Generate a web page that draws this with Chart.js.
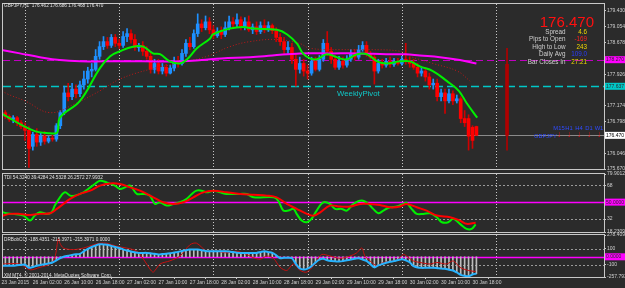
<!DOCTYPE html>
<html><head><meta charset="utf-8">
<script src="https://cdn.jsdelivr.net/npm/chart.js@4"></script>
<style>
html,body{margin:0;padding:0;background:#2b2b2b;width:625px;height:288px;overflow:hidden}
canvas{position:absolute;left:0;top:0}
</style></head><body>
<canvas id="cMain" width="625" height="288"></canvas>
<canvas id="cTdi" width="625" height="288"></canvas>
<canvas id="cCci" width="625" height="288"></canvas>
<script>
// ---------- DATA ----------
// bar position in hours since 26 Jan 00:00 (weekend skipped); H1 bars
const barHours = [-6,-5,-4,-3,-2,-1,0,1,2,3,4,5,6,7,8,9,10,11,12,13,14,15,16,17,18,19,20,21,22,23,24,25,26,27,28,29,30,31,32,33,34,35,36,37,38,39,40,41,42,43,44,45,46,47,48,49,50,51,52,53,54,55,56,57,58,59,60,61,62,63,64,65,66,67,68,69,70,71,72,73,74,75,76,77,78,79,80,81,82,83,84,85,86,87,88,89,90,91,92,93,94,95,96,97,98,99,100,101,102,103,104,105,106,107,108,109,110,111,112,113,114,115];
const openP = [176.94,177.01,176.92,176.85,176.89,176.77,176.68,176.59,176.21,176.49,176.31,176.45,176.33,176.40,176.38,176.70,177.01,177.48,177.39,177.57,177.46,177.67,177.81,178.00,178.04,178.35,178.58,178.70,178.61,178.80,178.66,178.61,178.82,178.89,178.75,178.56,178.61,178.47,178.35,178.04,178.18,178.00,178.09,177.95,178.07,178.23,178.18,178.42,178.66,178.58,178.89,179.12,179.03,179.17,178.98,178.84,178.94,178.87,179.03,179.17,179.12,179.22,179.05,179.17,178.98,179.05,178.94,179.08,178.98,179.08,178.96,178.80,178.70,178.51,178.56,178.28,178.04,178.18,178.00,177.95,178.23,178.04,178.28,178.66,178.47,178.28,178.09,178.23,178.14,178.28,178.42,178.33,178.51,178.61,178.42,178.33,178.00,178.18,178.14,178.23,178.16,178.23,178.18,178.28,178.23,178.18,178.09,177.95,178.00,177.86,177.67,177.71,177.39,177.48,177.29,177.46,177.29,177.34,176.87,176.87,176.66,176.68];
const highP = [177.10,177.06,176.96,176.94,176.92,176.82,176.77,176.68,176.54,176.63,176.52,176.56,176.45,176.47,176.75,177.06,177.64,177.71,177.71,177.67,177.76,178.00,178.09,178.18,178.51,178.70,178.82,178.80,178.87,178.87,178.75,178.94,179.01,178.98,178.87,178.66,178.70,178.58,178.47,178.28,178.28,178.18,178.16,178.14,178.33,178.35,178.51,178.75,178.80,178.98,179.36,179.22,179.31,179.27,179.08,179.03,179.05,179.17,179.31,179.27,179.36,179.29,179.27,179.31,179.12,179.17,179.17,179.22,179.17,179.12,179.03,178.89,178.80,178.70,178.66,178.42,178.33,178.28,178.14,178.33,178.33,178.37,178.75,178.94,178.56,178.37,178.35,178.33,178.37,178.51,178.51,178.61,178.70,178.70,178.47,178.37,178.28,178.28,178.30,178.33,178.30,178.30,178.35,178.66,178.33,178.28,178.18,178.09,178.07,177.95,177.81,177.81,177.57,177.57,177.57,177.53,177.43,177.39,177.06,176.96,176.70,176.69];
const lowP = [176.89,176.87,176.80,176.77,176.70,176.63,176.35,175.71,176.12,176.21,176.23,176.26,176.29,176.33,176.33,176.63,176.96,177.29,177.32,177.36,177.39,177.57,177.71,177.86,178.00,178.28,178.51,178.54,178.56,178.58,178.54,178.56,178.70,178.66,178.49,178.47,178.37,178.28,177.95,177.95,177.93,177.93,177.88,177.93,178.00,178.09,178.14,178.35,178.51,178.54,178.82,178.94,178.98,178.89,178.77,178.80,178.77,178.82,178.98,179.03,179.05,178.98,178.98,178.94,178.89,178.87,178.89,178.91,178.94,178.89,178.70,178.61,178.42,178.42,178.18,177.64,177.95,177.88,177.81,177.90,178.00,178.00,178.23,178.37,178.18,178.04,178.04,178.07,178.09,178.23,178.26,178.28,178.47,178.35,178.28,177.69,177.95,178.07,178.09,178.09,178.11,178.14,178.14,178.16,178.09,178.04,177.86,177.88,177.76,177.57,177.57,177.29,177.29,176.99,177.24,177.20,177.24,176.77,176.68,176.12,176.16,176.47];
const closeP = [177.01,176.92,176.85,176.89,176.77,176.68,176.59,176.16,176.49,176.31,176.45,176.33,176.40,176.38,176.70,177.01,177.48,177.39,177.57,177.46,177.67,177.81,178.00,178.04,178.35,178.58,178.70,178.61,178.80,178.66,178.61,178.82,178.89,178.75,178.56,178.61,178.47,178.35,178.04,178.18,178.00,178.09,177.95,178.07,178.23,178.18,178.42,178.66,178.58,178.89,179.12,179.03,179.17,178.98,178.84,178.94,178.87,179.03,179.17,179.12,179.22,179.05,179.17,178.98,179.05,178.94,179.08,178.98,179.08,178.96,178.80,178.70,178.51,178.56,178.28,178.04,178.18,178.00,177.95,178.23,178.04,178.28,178.66,178.47,178.28,178.09,178.23,178.14,178.28,178.42,178.33,178.51,178.61,178.42,178.33,178.00,178.18,178.14,178.23,178.16,178.23,178.18,178.28,178.23,178.18,178.09,177.95,178.00,177.86,177.67,177.71,177.39,177.48,177.29,177.46,177.29,177.34,176.87,176.77,176.45,176.35,176.47];

// moving averages on price chart (vertices)
const maFastH = [-6.4,2,6.4,8.2,8.9,14,19.1,21.7,24.2,27.5,30.1,32.6,34.4,36.9,39.5,41.3,43.8,47.1,47.9,52.2,55.5,58.1,64.2,66.8,69.3,70.8,72.6,74.4,76.9,80.3,82,84.6,87.1,89.7,92.2,95.5,98.1,100.6,103.9,107.5,110.5,112.5,115.2];
const maFast  = [177.01,176.59,176.52,176.54,176.89,177.29,178.07,178.35,178.47,178.58,178.58,178.42,178.40,178.23,178.18,178.28,178.54,178.77,178.87,179.01,179.05,179.01,178.98,178.87,178.65,178.42,178.30,178.28,178.40,178.30,178.28,178.40,178.40,178.23,178.18,178.23,178.23,178.11,178.00,177.76,177.53,177.24,176.89];
const maSlowH = [-6.4,-4.6,0,6.4,12.7,19.1,24.2,31.8,38.7,46.4,52.2,57.3,64.2,70.1,72.6,80.3,87.9,95.5,98.1,103.9,110.1,113.4];
const maSlow  = [177.57,177.46,177.29,177.01,177.22,177.53,177.81,178.04,178.18,178.35,178.58,178.70,178.75,178.65,178.54,178.51,178.51,178.47,178.35,178.18,178.00,177.76];
const maLongH = [-6.4,-1.3,3.8,8.9,14,20,30,40,45,50,57.3,63,70.1,78,85,92,97,100.6,105.7,110.8,115];
const maLong  = [178.51,178.42,178.33,178.26,178.23,178.23,178.23,178.23,178.26,178.30,178.33,178.37,178.42,178.42,178.42,178.40,178.40,178.37,178.33,178.26,178.18];

const weeklyPivot = 177.637;
const magentaLevel = 178.270;
const lastPrice = 176.470;
// daily candle drawn by the info indicator
const dailyHour = [122.8];
const dailyOpen = [178.16], dailyHigh = [178.54], dailyLow = [176.12], dailyClose = [176.47];

// TDI
const tdiFastH = [-6.4,-4.7,-3,-0.4,1.3,2.5,3.8,5.5,6.8,7.6,8.9,10.2,11.5,12.7,14.9,16.1,17.8,19.1,20.8,22.9,24.2,25.5,26.8,28.5,30.1,31.8,33.1,34.4,36.1,37.8,39.5,41.2,42.5,43.7,45,46.3,48,49.7,51.4,54.8,56.5,58.2,63.3,64.5,65.8,67.1,68.4,69.2,70.5,71.8,73,74.3,76,77.7,79,80.7,82,83.7,85.8,87.5,88.7,90,91.3,93,94.7,96.4,97.2,98.5,99.8,101.5,103.2,104.9,106.2,107.8,109.1,110.8,112.5,113.8,114.8];
const tdiFast  = [40.3,38.1,37.5,35.7,30.4,35.7,39.2,37.5,39.2,46.3,55.1,60.4,56.9,56.9,60.4,64,69.3,72.8,71,67.5,64,65.7,67.5,58.7,58.7,56.9,48.1,49.8,46.3,48.1,49.8,53.4,58.7,62.2,62.2,60.4,62.2,60.4,58.7,58.7,58.7,55.1,55.1,51.6,41,41,42.8,37.5,30.4,28.6,32.2,41,49.8,48.1,42.8,42.8,41,48.1,51.6,48.1,42.8,38.1,41,44.5,45.3,48.1,49.2,42.8,37.5,37.5,38.1,33.9,28.6,28.6,32.2,26.9,21.6,21.6,26.3];
const tdiSlowH = [-6.4,-3.8,-1.3,1.3,3.8,6.4,8.1,9.8,11.5,14,16.6,19.1,21.7,24.2,26.8,29.3,32.7,35.2,37.8,40.3,42.9,45.4,48,51.4,54.8,58.2,61.6,64.1,66.7,69.2,71.8,73.5,75.2,77.7,80.3,82.8,85.4,87.9,90.4,93,95.5,97.2,99.8,102.3,104.9,108.3,110.8,112.5,114.8];
const tdiSlow  = [34.6,37.5,37.5,36.4,37.5,38.1,42.8,48.1,53.4,58.7,62.2,67.5,69.9,69.3,65.7,62.2,55.1,49.8,48.1,49.8,55.1,60.4,62.2,60.4,58.7,57.8,56.9,55.1,48.1,42.8,37.5,35.5,39.2,46.3,45.3,45.3,48.1,48.1,47,44.5,45.3,48.1,44.5,41,35.7,33.9,30.4,26.9,28.0];
const tdiTicks = [79.9012,68,32,18.2309];

// DRBobCCI
const cciMain = [-113,-113,-113,-113,-108,-104,-101,-140,-130,-113,-104,-95,-85,-72,-45,-15,5,14,24,32,38,70,100,125,145,160,158,155,140,125,112,95,80,68,58,50,50,50,45,38,31,35,38,45,55,63,75,85,92,92,92,85,75,71,71,71,71,71,68,60,52,50,50,50,50,50,60,71,60,50,20,-18,-12,-12,-18,-90,-150,-162,-150,-120,-72,-35,-25,-45,-55,-58,-60,-55,-45,-35,-25,-18,-35,-52,-95,-135,-110,-92,-75,-62,-55,-42,-31,-45,-70,-120,-136,-141,-141,-141,-141,-145,-150,-153,-165,-174,-200,-230,-242,-248,-225,-215];
const cciTurboH = [-6.4,-1.3,1.3,3.8,6.4,7.6,8.5,8.9,9.8,12.3,14.9,17.4,19.1,20.8,23.4,25.9,28.5,30.2,31.8,32.7,34.4,36.9,39.5,42,43.7,46.3,48.8,51.4,53.9,56.5,58.2,59.9,61.6,63.3,65,66.7,68.4,70.1,71.8,73.5,74.3,75.6,77.7,80.3,82.8,84.5,85.8,86.6,87.9,89.6,91.3,93,94.7,96.4,97.2,98.9,100.6,103.2,104.9,107.4,109.1,110.8,112.9,114.8];
const cciTurbo  = [-92,-92,-166,-134,-92,-11,234,174,112,92,112,153,174,174,133,112,71,-31,-154,-195,-92,-52,10,153,174,71,71,50,71,30,-11,-31,10,-19,-134,-174,-92,-174,-195,-113,-52,30,10,-19,10,50,112,10,-52,-113,-72,-60,-43,30,10,-52,-72,-92,-72,-92,-52,-134,-174,-188];
const cciTicks = [278.4094,100,-100,-257.7930];

// time axis
const timeTickHours = [-6,2,10,18,26,34,42,50,58,66,74,82,90,98,106,114];
const timeTickLabels = ['23 Jan 2015','26 Jan 02:00','26 Jan 10:00','26 Jan 18:00','27 Jan 02:00','27 Jan 10:00','27 Jan 18:00','28 Jan 02:00','28 Jan 10:00','28 Jan 18:00','29 Jan 02:00','29 Jan 10:00','29 Jan 18:00','30 Jan 02:00','30 Jan 10:00','30 Jan 18:00'];
const daySeparators = [0,24,48,72,96,120];
const priceTicks = [179.430,179.054,178.678,177.926,177.174,176.798,176.046,175.670];

// info panel
const infoLabels = ['Spread','Pips to Open','High to Low','Daily Avg','Bar Closes In'];
const infoValues = ['4.6','-169','243','109.0','27:21'];
const infoColors = ['#f0d800','#ff2020','#f0d800','#2a3cff','#f0d800'];
const tfLabels = ['M15','H1','H4','D1','W1'];

// ---------- RENDER ----------
const FONT = "'Liberation Sans', Arial, sans-serif";
const FG = '#d0d0d0';
const XMIN = -5.6, XMAX = 147.5;
const pts = (hs, vs) => hs.map((h, i) => ({x: h, y: vs[i]}));
const bull = i => closeP[i] >= openP[i];

function hLine(ctx, a, y, color, w, dash) {
  ctx.save(); ctx.strokeStyle = color; ctx.lineWidth = w; ctx.setLineDash(dash || []);
  ctx.beginPath(); ctx.moveTo(a.left, y); ctx.lineTo(a.right, y); ctx.stroke(); ctx.restore();
}
function separators(chart) {
  const {ctx, chartArea: a, scales: {x}} = chart;
  ctx.save(); ctx.strokeStyle = '#c8c8c8'; ctx.lineWidth = 1; ctx.setLineDash([1, 2]);
  daySeparators.forEach(h => {
    const px = Math.round(x.getPixelForValue(h)) + 0.5;
    if (px < a.left || px > a.right) return;
    ctx.beginPath(); ctx.moveTo(px, a.top); ctx.lineTo(px, a.bottom); ctx.stroke();
  });
  ctx.restore();
}
function frame(chart) {
  const {ctx, chartArea: a} = chart;
  ctx.save(); ctx.strokeStyle = '#c8c8c8'; ctx.lineWidth = 1;
  ctx.strokeRect(Math.round(a.left) - 0.5, Math.round(a.top) - 0.5, Math.round(a.right - a.left) + 1, Math.round(a.bottom - a.top) + 1);
  ctx.restore();
}
function axisTag(chart, v, text, bg, fg) {
  const {ctx, scales: {y}} = chart;
  const py = y.getPixelForValue(v);
  ctx.save(); ctx.fillStyle = bg; ctx.fillRect(605, py - 3.5, 20, 7);
  ctx.fillStyle = fg; ctx.font = '5px ' + FONT; ctx.textBaseline = 'middle'; ctx.textAlign = 'left';
  ctx.fillText(text, 606, py + 0.3); ctx.restore();
}
function txt(ctx, s, x, y, size, color, align, weight) {
  ctx.save(); ctx.font = (weight || '') + ' ' + size + 'px ' + FONT; ctx.fillStyle = color;
  ctx.textAlign = align || 'left'; ctx.textBaseline = 'alphabetic'; ctx.fillText(s, x, y); ctx.restore();
}
function yAxis(min, max, ticks, fmt) {
  return {
    type: 'linear', position: 'right', min, max,
    afterFit: s => { s.width = 21; },
    afterBuildTicks: s => { s.ticks = ticks.map(v => ({value: v})); },
    ticks: {autoSkip: false, color: FG, font: {family: FONT, size: 5}, padding: 1, callback: fmt},
    grid: {drawOnChartArea: false, drawTicks: true, tickLength: 2, color: '#c8c8c8'},
    border: {display: false}
  };
}
const xHidden = {type: 'linear', min: XMIN, max: XMAX, display: false, offset: false};
const baseOpts = (padding, scales) => ({
  responsive: false, animation: false, devicePixelRatio: 1,
  layout: {padding},
  plugins: {legend: {display: false}, tooltip: {enabled: false}},
  scales
});

// Main price chart
new Chart(document.getElementById('cMain'), {
  type: 'bar',
  data: {datasets: [
    {type: 'line', data: pts(maFastH, maFast), borderColor: '#00f000', borderWidth: 2, pointRadius: 0, tension: 0.4, order: 1},
    {type: 'line', data: pts(maLongH, maLong), borderColor: '#ff00ff', borderWidth: 2, pointRadius: 0, tension: 0.4, order: 2},
    {type: 'line', data: pts(maSlowH, maSlow), borderColor: '#c01818', borderWidth: 1, borderDash: [1, 2], pointRadius: 0, tension: 0.4, order: 3},
    {data: barHours.map((h, i) => ({x: h, y: [openP[i], closeP[i]]})), barThickness: 3, minBarLength: 1, grouped: false,
     backgroundColor: barHours.map((h, i) => bull(i) ? '#1e90ff' : '#ff0000'), order: 9},
    {data: barHours.map((h, i) => ({x: h, y: [lowP[i], highP[i]]})), barThickness: 1, grouped: false,
     backgroundColor: barHours.map((h, i) => bull(i) ? '#1e90ff' : '#d00000'), order: 10},
    {data: dailyHour.map((h, i) => ({x: h, y: [dailyOpen[i], dailyClose[i]]})), barThickness: 3, grouped: false, backgroundColor: '#b00000', order: 9},
    {data: dailyHour.map((h, i) => ({x: h, y: [dailyLow[i], dailyHigh[i]]})), barThickness: 1, grouped: false, backgroundColor: '#b00000', order: 10}
  ]},
  options: baseOpts({left: 3, top: 2, right: 0, bottom: 119}, {
    x: xHidden,
    y: yAxis(175.67, 179.5945, priceTicks, v => v.toFixed(3))
  }),
  plugins: [{
    id: 'mainDeco',
    beforeDatasetsDraw(chart) {
      const {ctx, chartArea: a, scales: {y}} = chart;
      separators(chart);
      hLine(ctx, a, Math.round(y.getPixelForValue(magentaLevel)) + 0.5, '#c000c0', 1, [7, 4]);
      hLine(ctx, a, Math.round(y.getPixelForValue(weeklyPivot)) + 0.5, '#00c8c8', 1.5, [8, 4]);
      hLine(ctx, a, Math.round(y.getPixelForValue(lastPrice)) + 0.5, '#8a8a8a', 1);
    },
    afterDraw(chart) {
      const {ctx} = chart;
      frame(chart);
      axisTag(chart, magentaLevel, magentaLevel.toFixed(3), '#ff00ff', '#2b2b2b');
      axisTag(chart, weeklyPivot, weeklyPivot.toFixed(3), '#00c8c8', '#2b2b2b');
      axisTag(chart, lastPrice, lastPrice.toFixed(3), '#ffffff', '#000000');
      txt(ctx, 'GBPJPY,H1  176.462 176.686 176.468 176.470', 4, 7, 4.7, '#e0e0e0');
      txt(ctx, '176.470', 594, 27, 15, '#ff1010', 'right');
      infoLabels.forEach((l, i) => {
        const by = 33.5 + i * 7.6;
        txt(ctx, l, 565.5, by, 6.3, '#d0d0d0', 'right');
        txt(ctx, infoValues[i], 587, by, 6.3, infoColors[i], 'right');
      });
      txt(ctx, 'WeeklyPivot', 337, 95.5, 7.8, '#10c8c8');
      txt(ctx, 'GBPJPY', 534, 137.5, 5.8, '#2f4bff');
      tfLabels.forEach((t, i) => {
        const cx = 559 + i * 10;
        txt(ctx, t, cx, 129.5, 5.8, '#2f4bff', 'center');
        txt(ctx, '\u2193', cx, 137, 8.5, '#ff1010', 'center', 'bold');
      });
    }
  }]
});

// TDI panel
new Chart(document.getElementById('cTdi'), {
  type: 'line',
  data: {datasets: [
    {data: pts(tdiSlowH, tdiSlow), borderColor: '#ff0000', borderWidth: 2, pointRadius: 0, tension: 0.35, order: 1},
    {data: pts(tdiFastH, tdiFast), borderColor: '#00f000', borderWidth: 2, pointRadius: 0, tension: 0.35, order: 2}
  ]},
  options: baseOpts({left: 3, top: 174, right: 0, bottom: 56}, {
    x: xHidden,
    y: yAxis(18.2309, 79.9012, tdiTicks, v => (v % 1 === 0 ? String(v) : v.toFixed(4)))
  }),
  plugins: [{
    id: 'tdiDeco',
    beforeDatasetsDraw(chart) {
      const {ctx, chartArea: a, scales: {y}} = chart;
      separators(chart);
      [68, 32].forEach(v => hLine(ctx, a, Math.round(y.getPixelForValue(v)) + 0.5, '#9a9a9a', 1, [2, 2]));
      hLine(ctx, a, Math.round(y.getPixelForValue(50)) + 0.5, '#ff00ff', 1.6);
    },
    afterDraw(chart) {
      frame(chart);
      axisTag(chart, 50, '50.0000', '#ff00ff', '#2b2b2b');
      txt(chart.ctx, 'TDI 54.3240 39.4284 24.5328 26.2572 27.9932', 4, 179, 4.7, '#e0e0e0');
    }
  }]
});

// DRBobCCI panel
new Chart(document.getElementById('cCci'), {
  type: 'bar',
  data: {datasets: [
    {type: 'line', data: pts(barHours, cciMain), borderColor: '#28b4ff', borderWidth: 2, pointRadius: 0, tension: 0.3, order: 1},
    {type: 'line', data: pts(cciTurboH, cciTurbo), borderColor: '#c81010', borderWidth: 1, pointRadius: 0, tension: 0.3, order: 2},
    {data: pts(barHours, cciMain), barThickness: 1, grouped: false, backgroundColor: '#bcbcbc', order: 3}
  ]},
  options: baseOpts({left: 3, top: 235, right: 0, bottom: 0}, {
    x: {
      type: 'linear', min: XMIN, max: XMAX, offset: false, position: 'bottom',
      afterFit: s => { s.height = 11; },
      afterBuildTicks: s => { s.ticks = timeTickHours.map(v => ({value: v})); },
      ticks: {autoSkip: false, maxRotation: 0, minRotation: 0, align: 'start', color: FG, font: {family: FONT, size: 5}, padding: 1,
        callback: (v, i) => timeTickLabels[i]},
      grid: {drawOnChartArea: false, drawTicks: true, tickLength: 2, color: '#c8c8c8'},
      border: {display: false}
    },
    y: yAxis(-257.793, 278.4094, cciTicks, v => (v % 1 === 0 ? String(v) : v.toFixed(4)))
  }),
  plugins: [{
    id: 'cciDeco',
    beforeDatasetsDraw(chart) {
      const {ctx, chartArea: a, scales: {y}} = chart;
      separators(chart);
      [100, -100].forEach(v => hLine(ctx, a, Math.round(y.getPixelForValue(v)) + 0.5, '#9a9a9a', 1, [2, 2]));
      hLine(ctx, a, Math.round(y.getPixelForValue(0)) + 0.5, '#ff00ff', 1.6);
    },
    afterDraw(chart) {
      frame(chart);
      axisTag(chart, 0, '0.0000', '#ff00ff', '#2b2b2b');
      txt(chart.ctx, 'DRBobCCI -188.4351 -215.3971 -215.3971 0.0000', 4, 241, 4.7, '#e0e0e0');
      txt(chart.ctx, 'XM MT4, \u00a9 2001-2014, MetaQuotes Software Corp.', 4, 277, 4.7, '#e0e0e0');
    }
  }]
});
</script>
</body></html>
